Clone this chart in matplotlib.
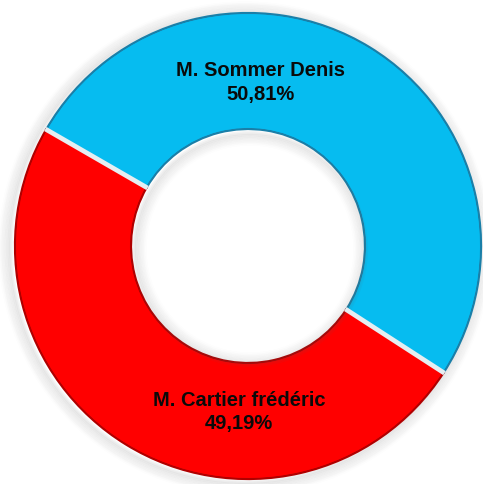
import matplotlib
matplotlib.use("Agg")
import matplotlib.pyplot as plt
import numpy as np

# Data
candidates = ["M. Sommer Denis", "M. Cartier frédéric"]
shares = [50.81, 49.19]
share_labels = ["50,81%", "49,19%"]
colors = ["#06BCF0", "#FF0000"]
edge_colors = ["#1A7FA8", "#B00000"]

W, H = 483, 484
fig = plt.figure(figsize=(W / 100, H / 100), dpi=100)
ax = fig.add_axes([0, 0, 1, 1])
cx, cy = 248, 246
ax.set_xlim(-cx, W - cx)
ax.set_ylim(-(H - cy), cy)
ax.set_aspect("equal")
ax.axis("off")

R = 233
width = 116

# soft shadow
for i, a in enumerate(np.linspace(0.06, 0.012, 8)):
    r = R + 1 + i * 1.5
    ring = plt.Circle((-3, -2), r, facecolor="none", edgecolor="#606060",
                      linewidth=3, alpha=a, zorder=0)
    ax.add_patch(ring)
for i, a in enumerate(np.linspace(0.06, 0.01, 8)):
    r = R - width - 1 - i * 1.5
    ring = plt.Circle((2, -3), r, facecolor="none", edgecolor="#606060",
                      linewidth=3, alpha=a, zorder=3)
    ax.add_patch(ring)

# bevel-like dark rims
wedges, _ = ax.pie(shares, radius=R, startangle=150, counterclock=False,
                   colors=colors, center=(0, 0),
                   wedgeprops=dict(width=width, linewidth=0))
for w, ec in zip(wedges, edge_colors):
    w.set_edgecolor(ec)
    w.set_linewidth(1.6)
    w.set_zorder(1)
wedges2, _ = ax.pie(shares, radius=R - 1.2, startangle=150, counterclock=False,
                    colors=colors, center=(0, 0),
                    wedgeprops=dict(width=width - 2.4, linewidth=0))
for w in wedges2:
    w.set_zorder(2)
# separators
for ang in [150, 150 - 360 * shares[0] / 100]:
    t = np.deg2rad(ang)
    ax.plot([(R - width - 1) * np.cos(t), (R + 1) * np.cos(t)],
            [(R - width - 1) * np.sin(t), (R + 1) * np.sin(t)],
            color="#E6EEF2", linewidth=3.4, solid_capstyle="butt", zorder=4)

ax.set_xlim(-cx, W - cx)
ax.set_ylim(-(H - cy), cy)

font = dict(family="Liberation Sans", weight="bold", fontsize=14.5,
            color="#0A0A0A", ha="center", va="baseline", zorder=6)
ax.text(13, 170, candidates[0], **font)
ax.text(13, 146, share_labels[0], **font)
ax.text(-9, -160, candidates[1], **font)
ax.text(-9, -183, share_labels[1], **font)

fig.savefig("out.png", dpi=100)
